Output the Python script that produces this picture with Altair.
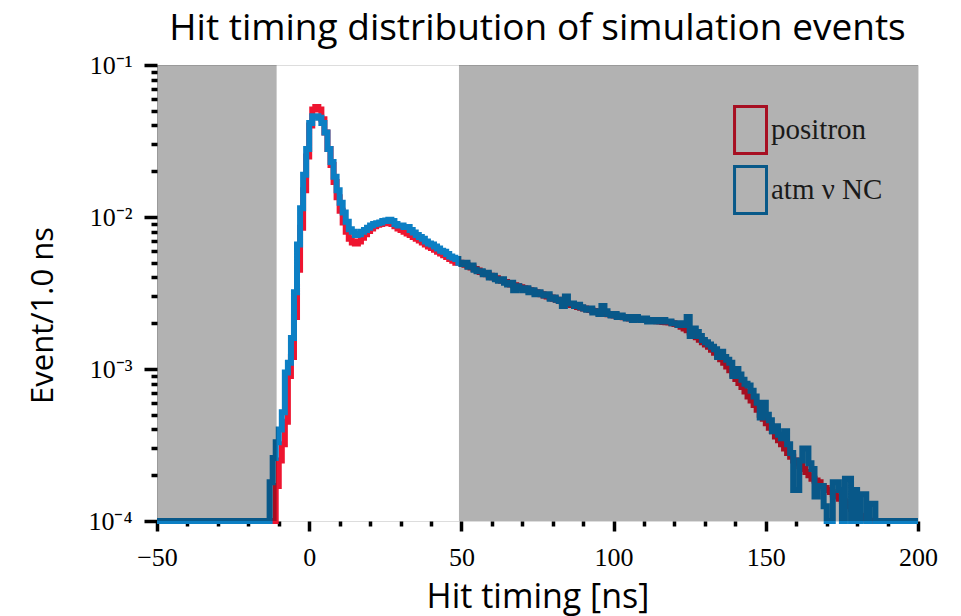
import altair as alt
import pandas as pd

# ---------------- data ----------------
t_min, t_max = -50, 200
floor_val = 1e-4  # empty bins are drawn on the lower edge of the log axis

series_names = ["positron", "atm ν NC"]

# atm nu NC : 1-ns bins starting at t = -13
blue_start = -13
blue_vals = [
    1.8e-4, 2.6e-4, 3.3e-4, 4.0e-4, 5.2e-4, 9.5e-4, 1.1e-3, 1.6e-3, 3.2e-3, 6.6e-3,
    1.14e-2, 1.9e-2, 2.8e-2, 4.15e-2, 4.6e-2, 4.6e-2, 4.5e-2, 4.15e-2, 3.6e-2, 2.8e-2,
    2.3e-2, 1.84e-2, 1.5e-2, 1.24e-2, 1.07e-2, 9.3e-3, 8.3e-3, 8.0e-3, 7.6e-3, 7.7e-3,
    8.0e-3, 8.2e-3, 8.5e-3, 8.8e-3, 9.0e-3, 9.1e-3, 9.2e-3, 9.4e-3, 9.5e-3, 9.6e-3,
    9.4e-3, 9.0e-3, 8.8e-3, 8.8e-3, 8.6e-3, 8.6e-3, 8.2e-3, 7.9e-3, 7.6e-3, 7.4e-3,
    7.2e-3, 6.9e-3, 6.7e-3, 6.6e-3, 6.4e-3, 6.2e-3, 6.0e-3, 5.9e-3, 5.7e-3, 5.5e-3,
    5.4e-3, 5.3e-3, 5.0e-3, 4.9e-3, 5.0e-3, 4.7e-3, 4.8e-3, 4.5e-3, 4.4e-3, 4.4e-3,
    4.2e-3, 4.3e-3, 4.0e-3, 4.1e-3, 3.9e-3, 3.8e-3, 3.9e-3, 3.7e-3, 3.6e-3, 3.7e-3,
    3.3e-3, 3.5e-3, 3.4e-3, 3.3e-3, 3.4e-3, 3.2e-3, 3.3e-3, 3.1e-3, 3.2e-3, 3.1e-3,
    3.05e-3, 3.1e-3, 2.9e-3, 2.95e-3, 2.85e-3, 2.8e-3, 2.6e-3, 3.0e-3, 2.7e-3, 2.7e-3,
    2.6e-3, 2.65e-3, 2.55e-3, 2.5e-3, 2.45e-3, 2.5e-3, 2.35e-3, 2.4e-3, 2.3e-3, 2.6e-3,
    2.4e-3, 2.3e-3, 2.25e-3, 2.3e-3, 2.2e-3, 2.25e-3, 2.2e-3, 2.15e-3, 2.2e-3, 2.1e-3,
    2.2e-3, 2.15e-3, 2.1e-3, 2.15e-3, 2.05e-3, 2.1e-3, 2.05e-3, 2.1e-3, 2.05e-3, 2.1e-3,
    2.05e-3, 2.05e-3, 2.0e-3, 2.0e-3, 1.95e-3, 2.0e-3, 1.95e-3, 2.2e-3, 1.65e-3, 1.85e-3,
    1.75e-3, 1.65e-3, 1.55e-3, 1.5e-3, 1.45e-3, 1.4e-3, 1.35e-3, 1.2e-3, 1.3e-3, 1.2e-3,
    1.15e-3, 1.1e-3, 9.0e-4, 1.0e-3, 9.2e-4, 8.5e-4, 8.0e-4, 7.8e-4, 7.2e-4, 6.6e-4,
    6.0e-4, 4.8e-4, 6.0e-4, 5.0e-4, 4.6e-4, 3.9e-4, 4.2e-4, 3.7e-4, 3.5e-4, 3.9e-4,
    3.2e-4, 2.8e-4, 1.6e-4, 1.6e-4, 2.5e-4, 3.0e-4, 3.0e-4, 2.4e-4, 2.2e-4, 1.45e-4,
    1.7e-4, 1.7e-4, 1.25e-4, 1.0e-4, 1.0e-4, 1.8e-4, 1.8e-4, 1.6e-4, 1.0e-4, 1.9e-4,
    1.9e-4, 1.0e-4, 1.6e-4, 1.0e-4, 1.5e-4, 1.5e-4, 1.0e-4, 1.3e-4, 1.3e-4, 1.0e-4,
]

# positron : 1-ns bins starting at t = -11
red_start = -11
red_vals = [
    1.7e-4, 2.5e-4, 3.2e-4, 4.5e-4, 9.0e-4, 1.2e-3, 2.2e-3, 4.5e-3, 8.5e-3, 1.5e-2,
    2.5e-2, 4.0e-2, 5.1e-2, 5.3e-2, 5.1e-2, 4.4e-2, 3.6e-2, 2.8e-2, 2.2e-2, 1.7e-2,
    1.35e-2, 1.1e-2, 9.2e-3, 8.0e-3, 7.2e-3, 6.8e-3, 6.7e-3, 6.9e-3, 7.3e-3, 7.7e-3,
    8.1e-3, 8.4e-3, 8.7e-3, 8.9e-3, 9.0e-3, 9.1e-3, 9.2e-3, 9.2e-3, 9.0e-3, 8.7e-3,
    8.4e-3, 8.2e-3, 8.0e-3, 7.8e-3, 7.6e-3, 7.4e-3, 7.2e-3, 7.0e-3, 6.8e-3, 6.6e-3,
    6.4e-3, 6.25e-3, 6.1e-3, 5.9e-3, 5.75e-3, 5.6e-3, 5.45e-3, 5.3e-3, 5.15e-3, 5.0e-3,
    5.0e-3, 4.95e-3, 4.85e-3, 4.75e-3, 4.65e-3, 4.55e-3, 4.45e-3, 4.35e-3, 4.28e-3, 4.2e-3,
    4.1e-3, 4.02e-3, 3.95e-3, 3.87e-3, 3.8e-3, 3.73e-3, 3.67e-3, 3.6e-3, 3.55e-3, 3.5e-3,
    3.45e-3, 3.4e-3, 3.35e-3, 3.3e-3, 3.25e-3, 3.2e-3, 3.15e-3, 3.1e-3, 3.05e-3, 3.0e-3,
    2.95e-3, 2.9e-3, 2.85e-3, 2.8e-3, 2.76e-3, 2.72e-3, 2.68e-3, 2.64e-3, 2.6e-3, 2.56e-3,
    2.53e-3, 2.5e-3, 2.47e-3, 2.44e-3, 2.41e-3, 2.38e-3, 2.35e-3, 2.33e-3, 2.31e-3, 2.29e-3,
    2.27e-3, 2.25e-3, 2.23e-3, 2.21e-3, 2.19e-3, 2.17e-3, 2.15e-3, 2.14e-3, 2.13e-3, 2.12e-3,
    2.11e-3, 2.1e-3, 2.09e-3, 2.08e-3, 2.07e-3, 2.06e-3, 2.05e-3, 2.04e-3, 2.03e-3, 2.02e-3,
    2.0e-3, 1.98e-3, 1.95e-3, 1.9e-3, 1.85e-3, 1.8e-3, 1.74e-3, 1.68e-3, 1.62e-3, 1.56e-3,
    1.5e-3, 1.45e-3, 1.4e-3, 1.34e-3, 1.28e-3, 1.22e-3, 1.16e-3, 1.1e-3, 1.04e-3, 9.8e-4,
    9.2e-4, 8.6e-4, 8.1e-4, 7.6e-4, 7.1e-4, 6.6e-4, 6.2e-4, 5.8e-4, 5.4e-4, 5.0e-4,
    4.7e-4, 4.4e-4, 4.1e-4, 3.9e-4, 3.6e-4, 3.4e-4, 3.2e-4, 3.0e-4, 2.8e-4, 2.65e-4,
    2.5e-4, 2.4e-4, 2.3e-4, 2.2e-4, 2.1e-4, 2.0e-4, 1.9e-4, 1.85e-4, 1.8e-4, 1.7e-4,
    1.65e-4, 1.6e-4, 1.55e-4, 1.5e-4, 1.45e-4, 1.4e-4, 1.35e-4, 1.3e-4, 1.25e-4, 1.2e-4,
    1.15e-4, 1.1e-4, 1.08e-4, 1.05e-4, 1.02e-4,
]

# grey (out-of-window) regions
shade_x0 = [-50, 49.2]
shade_x1 = [-10.7, 200]

# tick positions
x_ticks = list(range(-50, 201, 10))
y_ticks = [k * 10.0 ** e for e in (-4, -3, -2) for k in range(1, 10)] + [0.1]

# ---------------- tables ----------------
rows = []
for name, start, vals in ((series_names[0], red_start, red_vals),
                          (series_names[1], blue_start, blue_vals)):
    for t in range(t_min, t_max + 1):
        i = t - start
        v = vals[i] if 0 <= i < len(vals) else floor_val
        rows.append({"series": name, "t": t, "v": v})
df = pd.DataFrame(rows)

shade_df = pd.DataFrame({"x0": shade_x0, "x1": shade_x1,
                         "y0": [floor_val] * len(shade_x0),
                         "y1": [0.1] * len(shade_x0)})

RED = "#ee1530"
BLUE = "#0c7fc4"
RED_D = "#a70f22"
BLUE_D = "#085989"

SERIF = "Liberation Serif"
SANS = "Open Sans"

major_y = "abs(log(datum.value)/LN10 - round(log(datum.value)/LN10)) < 0.001"
e_y = "round(log(datum.value)/LN10)"

x_axis = alt.Axis(
    values=x_ticks,
    labelExpr="datum.value % 50 == 0 ? (datum.value < 0 ? '\u2212' + abs(datum.value) : '' + datum.value) : ''",
    tickSize={"condition": {"test": "datum.value % 50 == 0", "value": 10}, "value": 5},
    tickWidth=3.5, tickColor="black", domain=False, grid=False,
    labelFont=SERIF, labelFontSize=26, labelColor="black", labelPadding=13,
    labelOverlap=False, labelFlush=False, labelBound=False,
    titleFont=SANS, titleFontSize=34, titleFontWeight="normal", titleColor="black",
    titlePadding=10,
)
y_axis = alt.Axis(
    values=y_ticks,
    labelExpr=f"{major_y} ? ({e_y} == -1 ? '10\u207b\u00b9' : {e_y} == -2 ? '10\u207b\u00b2' : {e_y} == -3 ? '10\u207b\u00b3' : '10\u207b\u2074') : ''",
    tickSize={"condition": {"test": major_y, "value": 13}, "value": 6},
    tickWidth=3.5, tickColor="black", domain=False, grid=False,
    labelFont=SERIF, labelFontSize=26, labelColor="black", labelPadding=12,
    labelOverlap=False, labelFlush=False, labelBound=False,
    titleFont=SANS, titleFontSize=31, titleFontWeight="normal", titleColor="black",
    titlePadding=28, titleY=250,
)

x_scale = alt.Scale(domain=[t_min, t_max], nice=False, zero=False)
y_scale = alt.Scale(type="log", domain=[1e-4, 1e-1], nice=False)


def X(field):
    return alt.X(f"{field}:Q", scale=x_scale, axis=x_axis, title="Hit timing [ns]")


def Y(field):
    return alt.Y(f"{field}:Q", scale=y_scale, axis=y_axis, title="Event/1.0 ns")


legend = alt.Legend(
    orient="none", legendX=561, legendY=40, title=None, padding=0,
    symbolType="M-0.36,-1L1,-1L1,1L-0.36,1Z", symbolSize=2209,
    symbolStrokeWidth=3, symbolFillColor="transparent",
    labelFont=SERIF, labelFontSize=29, labelColor="#1a1a1a", labelOffset=3,
    rowPadding=0,
)

legend_layer = alt.Chart(df).mark_line(interpolate="step-after", strokeWidth=3).encode(
    x=X("t"), y=Y("v"),
    color=alt.Color("series:N", scale=alt.Scale(domain=series_names, range=[RED_D, BLUE_D]),
                    legend=legend),
)

red_layer = alt.Chart(df).transform_filter(
    alt.datum.series == series_names[0]
).mark_line(interpolate="step-after", strokeWidth=6, color=RED).encode(x=X("t"), y=Y("v"))

blue_layer = alt.Chart(df).transform_filter(
    alt.datum.series == series_names[1]
).mark_line(interpolate="step-after", strokeWidth=6, color=BLUE).encode(x=X("t"), y=Y("v"))

shade = alt.Chart(shade_df).mark_rect(color="black", opacity=0.3).encode(
    x=X("x0"), x2="x1", y=Y("y0"), y2="y1"
)

chart = alt.layer(legend_layer, red_layer, blue_layer, shade).properties(
    width=761, height=456,
    padding={"left": 157, "top": 65, "right": 43, "bottom": 95},
    autosize=alt.AutoSizeParams(type="none"),
    title=alt.TitleParams("Hit timing distribution of simulation events", font=SANS,
                          fontSize=37, fontWeight="normal", color="black",
                          anchor="middle", offset=4),
).configure_view(stroke="black", strokeWidth=4).configure(background="white")

chart.save("out.html", embed_options={"renderer": "svg", "actions": False})
